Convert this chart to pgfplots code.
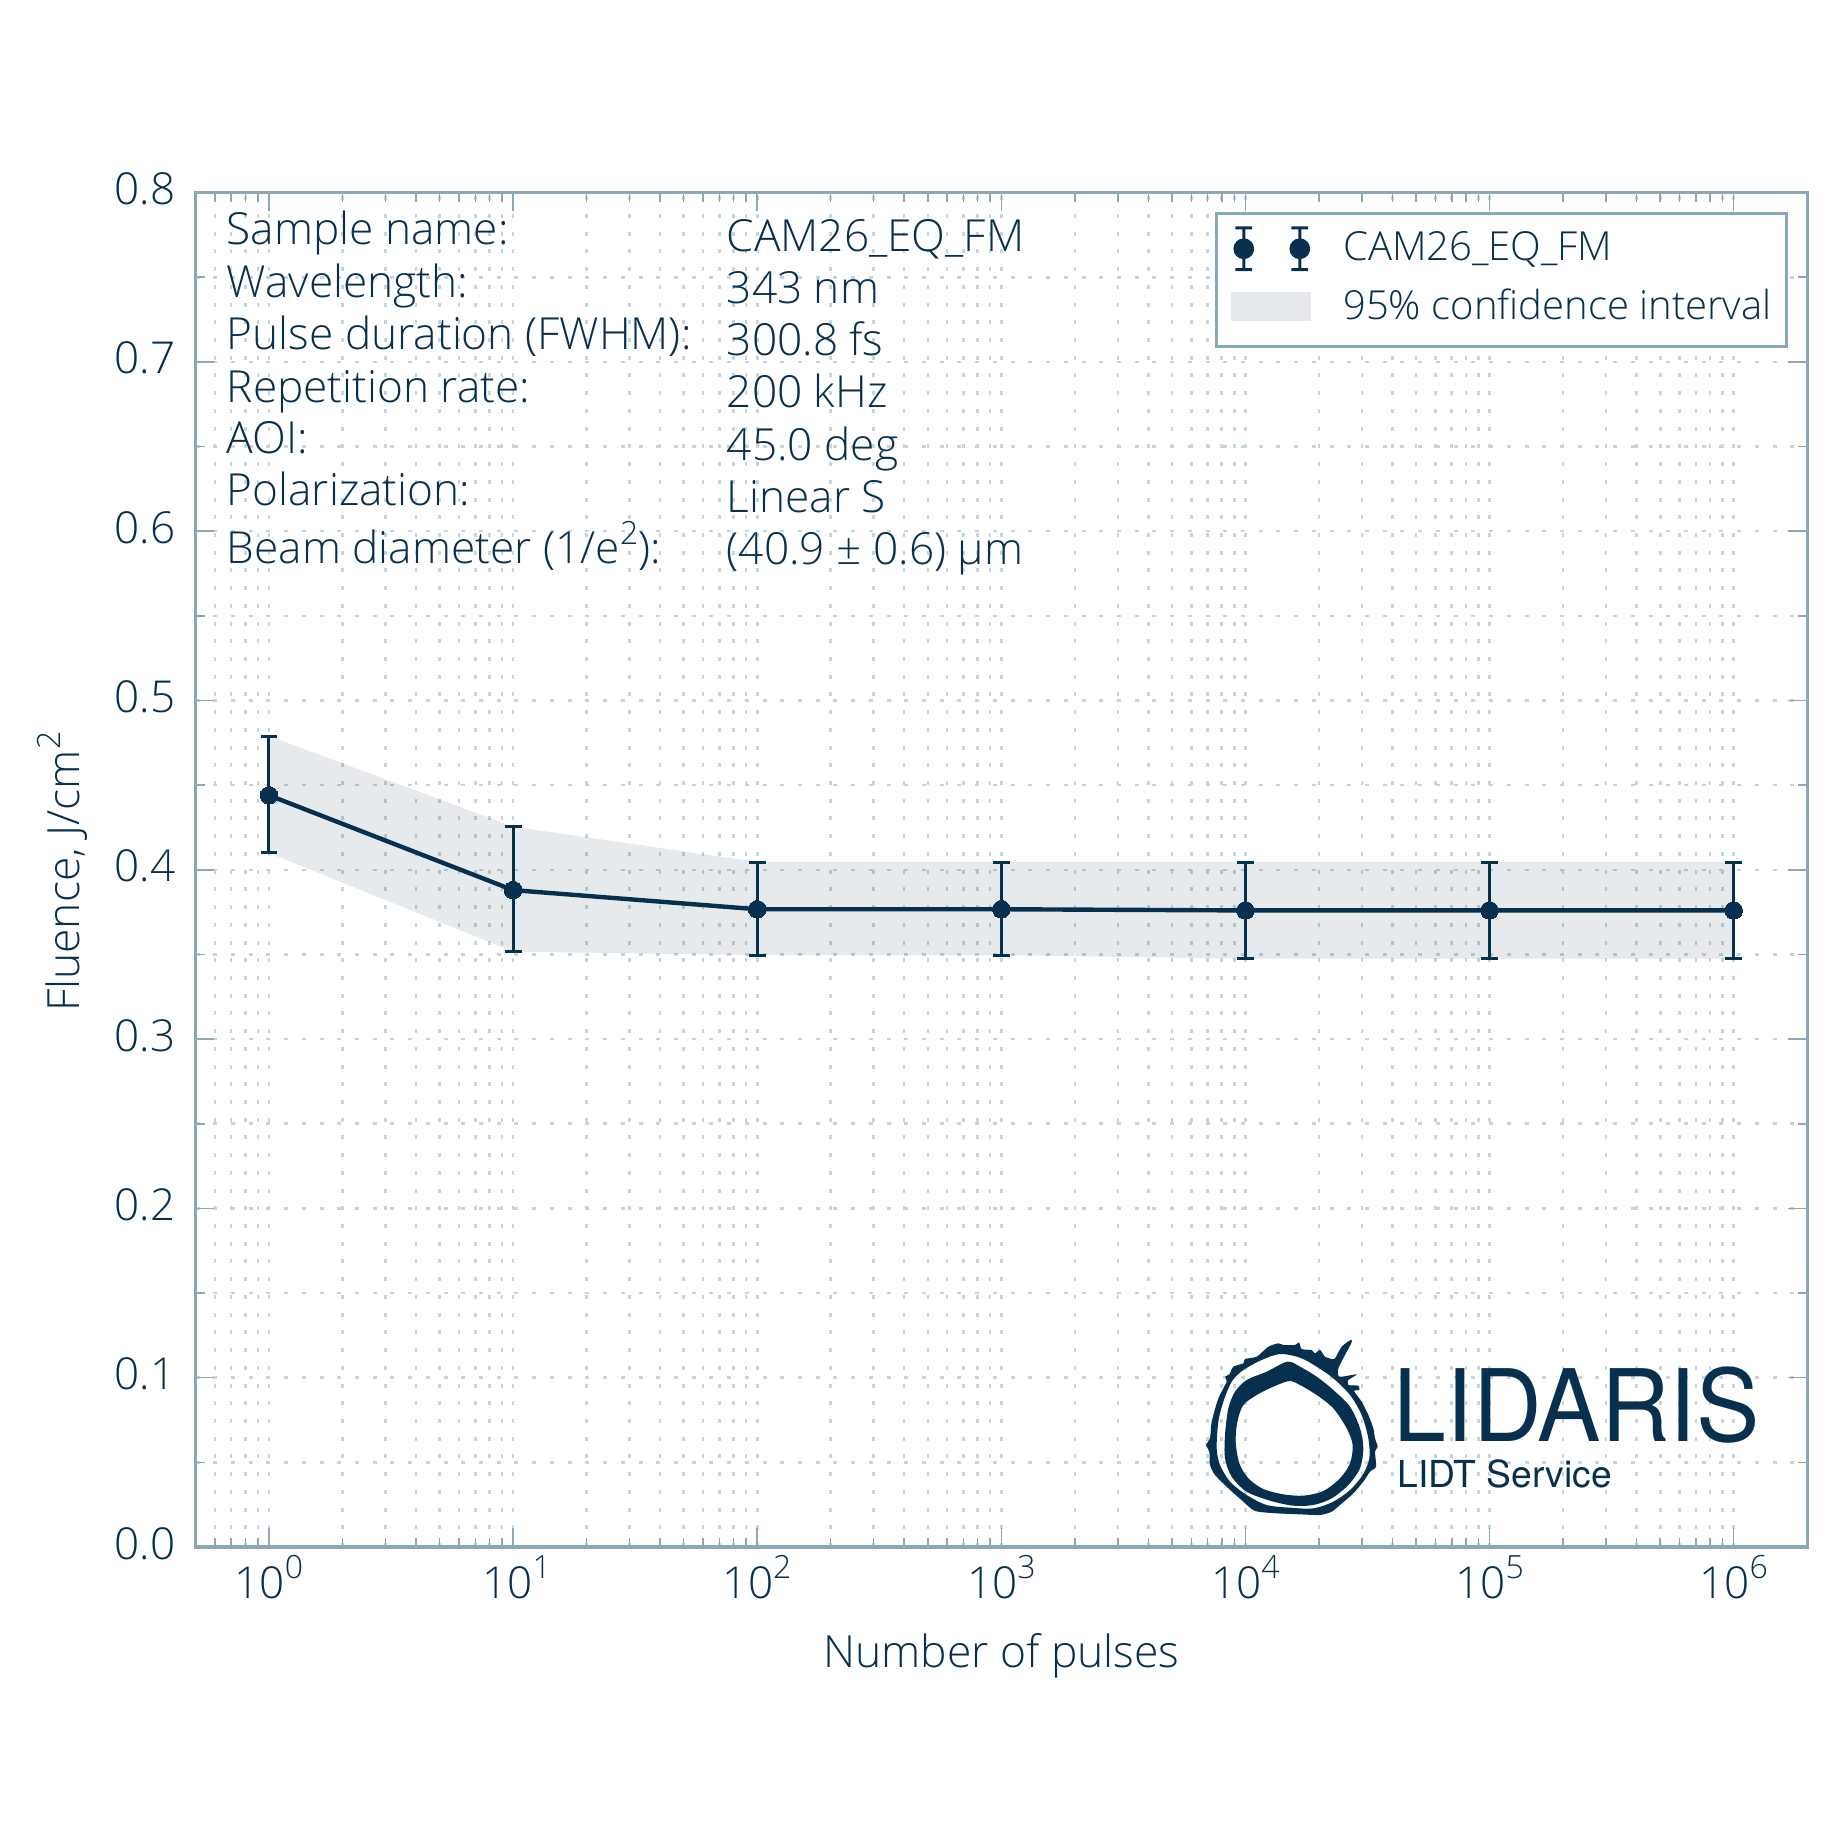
\documentclass[border=0pt]{standalone}
\usepackage{fontspec}
\usepackage{pgfplots}
\usepackage{pgfplotstable}
\pgfplotsset{compat=1.18}
\setmainfont{Open Sans Light}
\newfontfamily\logofont{TeX Gyre Heros}
\definecolor{ink}{HTML}{06304E}
\definecolor{spine}{HTML}{8CA8B8}
\definecolor{gridc}{HTML}{C4D5DB}
% x, y, error up, error down
\pgfplotstableread{
n y up down
1 0.444 0.035 0.034
10 0.388 0.0375 0.0363
100 0.3767 0.0279 0.0271
1000 0.3767 0.0279 0.0271
10000 0.376 0.0286 0.0285
100000 0.376 0.0286 0.0285
1000000 0.376 0.0286 0.0285
}\fluence
\newcommand{\sups}[1]{\raisebox{4.8pt}{\fontsize{8}{8}\selectfont #1}}
\newcommand{\pw}[1]{10\sups{#1}}
\newcommand{\lab}[3]{\node[anchor=base west,inner sep=0pt,text=ink,font=\fontsize{11.05}{13}\selectfont] at (#1,#2) {#3};}
\begin{document}
\begin{tikzpicture}[x=0.25pt,y=-0.25pt]
\path[use as bounding box] (0,0) rectangle (1848,1848);
\coordinate (o) at (195.5,1547);
\begin{axis}[
    at={(o)}, anchor=south west,
    scale only axis, width=402.9pt, height=338.6pt,
    xmode=log, log basis x=10,
    xmin=0.5, xmax=2000000, ymin=0, ymax=0.8,
    xtick={1,10,100,1000,10000,100000,1000000},
    xticklabels={\pw{0},\hspace*{1.8pt}\pw{1},\pw{2},\pw{3},\pw{4},\pw{5},\pw{6}},
    minor xtick={0.6,0.7,0.8,0.9,2,3,4,5,6,7,8,9,20,30,40,50,60,70,80,90,
        200,300,400,500,600,700,800,900,2000,3000,4000,5000,6000,7000,8000,9000,
        20000,30000,40000,50000,60000,70000,80000,90000,
        200000,300000,400000,500000,600000,700000,800000,900000},
    ytick={0,0.1,0.2,0.3,0.4,0.5,0.6,0.7,0.8},
    minor ytick={0.05,0.15,0.25,0.35,0.45,0.55,0.65,0.75},
    /pgf/number format/assume math mode=true,
    y tick label style={/pgf/number format/fixed,/pgf/number format/fixed zerofill,/pgf/number format/precision=1,
        anchor=base east,xshift=-4.9pt,yshift=-3pt},
    x tick label style={anchor=base,yshift=-12.75pt},
    every tick label/.append style={inner sep=0pt},
    tick label style={font=\fontsize{11}{13}\selectfont,text=ink},
    tick align=inside,
    major tick length=4.7pt, minor tick length=2.3pt,
    tick style={draw=spine,line width=0.38pt},
    axis line style={draw=spine,line width=0.8pt},
    grid=both,
    grid style={draw=gridc,line width=0.65pt,dash pattern=on 1pt off 3.43pt},
    minor grid style={draw=gridc,line width=0.65pt,dash pattern=on 1pt off 3.43pt},
    xlabel={Number of pulses},
    ylabel={Fluence, J/cm\sups{2}},
    xlabel style={at={(axis description cs:0.5,-0.0893)},anchor=base,inner sep=0pt,font=\fontsize{11.1}{13}\selectfont,text=ink},
    ylabel style={at={(axis description cs:-0.0719,0.4985)},anchor=base,inner sep=0pt,font=\fontsize{11.1}{13}\selectfont,text=ink},
    legend style={at={(rel axis cs:0.9882,0.9858)},anchor=north east,draw=spine,line width=0.8pt,
        fill=white,font=\fontsize{10}{12}\selectfont,text=ink,
        inner xsep=3.75pt,inner ysep=3.25pt,row sep=3.5pt,
        nodes={inner sep=0pt,text height=7.7pt,text depth=3.55pt}},
    legend cell align=left,
]
\addplot[draw=none,fill=ink,fill opacity=0.1,forget plot] coordinates {
    (1,0.479) (10,0.4255) (100,0.4046) (1000,0.4046) (10000,0.4046) (100000,0.4046) (1000000,0.4046)
    (1000000,0.3475) (100000,0.3475) (10000,0.3475) (1000,0.3496) (100,0.3496) (10,0.3517) (1,0.410)
} -- cycle;
\addplot[color=ink,line width=1.1pt,mark=*,mark size=2.2pt,mark options={fill=ink,draw=ink,line width=0pt},
    legend image code/.code={\draw[draw=ink,fill=ink,line width=0.75pt,solid,mark=none]
       (0.119cm,-0.154cm)--(0.119cm,0.212cm) (0.045cm,-0.154cm)--(0.193cm,-0.154cm) (0.045cm,0.212cm)--(0.193cm,0.212cm)
       (0.611cm,-0.154cm)--(0.611cm,0.212cm) (0.537cm,-0.154cm)--(0.685cm,-0.154cm) (0.537cm,0.212cm)--(0.685cm,0.212cm)
       (0.119cm,0.029cm) circle (0.0776cm) (0.611cm,0.029cm) circle (0.0776cm) (0.98cm,0cm);},
    error bars/.cd,y dir=both,y explicit,
    error bar style={line width=0.75pt,color=ink},
    error mark options={line width=0.75pt,mark size=2.1pt,rotate=90,color=ink}]
    table[x=n,y=y,y error plus=up,y error minus=down] {\fluence};
\addlegendentry{CAM26\_EQ\_FM}
\addlegendimage{legend image code/.code={\fill[draw=none,fill=ink,fill opacity=0.1] (0.01cm,-0.085cm) rectangle (0.713cm,0.169cm) (0.98cm,0cm);}}
\addlegendentry{95\% confidence interval}
\end{axis}
\lab{226}{245}{Sample name:}
\lab{226}{298}{Wavelength:}
\lab{226}{349.5}{Pulse duration (FWHM):}
\lab{226}{402.5}{Repetition rate:}
\lab{226}{454}{AOI:}
\lab{226}{506}{Polarization:}
\lab{226}{564}{Beam diameter (1/e\sups{2}):}
\lab{726}{252}{CAM26\_EQ\_FM}
\lab{726}{304}{343 nm}
\lab{726}{356}{300.8 fs}
\lab{726}{408}{200 kHz}
\lab{726}{460.5}{45.0 deg}
\lab{726}{513}{Linear S}
\lab{726}{565}{(40.9 ± 0.6) µm}
% logo
\begin{scope}[shift={(1200,1335)},x=0.08333pt,y=-0.08333pt]
\fill[ink,even odd rule]
 plot[smooth cycle,tension=0.4] coordinates {(235,25) (250,30) (285,30) (297,22) (305,42) (335,45) (345,55) (360,45) (375,65) (395,72) (405,70) (425,35) (452,15) (455,22) (435,60) (415,100) (418,125) (470,118) (445,135) (445,150) (475,152) (478,165) (462,168) (485,200) (505,240) (520,280) (525,310) (533,335) (525,350) (528,395) (510,410) (490,440) (460,475) (420,510) (395,530) (360,540) (300,538) (230,535) (165,528) (130,500) (85,460) (45,420) (30,390) (28,350) (18,330) (30,310) (35,260) (55,190) (80,140) (75,125) (88,118) (100,95) (130,85) (135,72) (170,65) (205,35)}
 plot[smooth cycle,tension=0.5] coordinates {(240,57) (300,68) (350,95) (400,130) (450,180) (485,240) (505,310) (508,370) (488,420) (450,465) (400,500) (340,520) (270,518) (200,510) (140,480) (90,440) (60,390) (50,340) (55,260) (70,200) (95,140) (130,105) (185,75)}
 plot[smooth cycle,tension=0.5] coordinates {(262,80) (300,95) (350,125) (400,165) (450,215) (480,280) (490,340) (480,400) (445,450) (395,490) (340,510) (280,512) (210,497) (140,470) (95,425) (75,370) (75,300) (85,220) (105,170) (140,135) (200,110)}
 plot[smooth cycle,tension=0.5] coordinates {(268,138) (300,150) (350,180) (400,220) (440,280) (458,330) (450,385) (420,430) (370,468) (310,482) (250,478) (190,462) (145,430) (118,385) (107,320) (112,260) (130,210) (170,180) (220,155)};
\end{scope}
\node[anchor=base west,inner sep=0pt,text=ink,font=\logofont\fontsize{25}{27}\selectfont,xscale=0.95] at (1393,1441.7) {LIDARIS};
\node[anchor=base west,inner sep=0pt,text=ink,font=\logofont\fontsize{9.3}{11}\selectfont] at (1396.5,1487) {LIDT Service};
\end{tikzpicture}
\end{document}
